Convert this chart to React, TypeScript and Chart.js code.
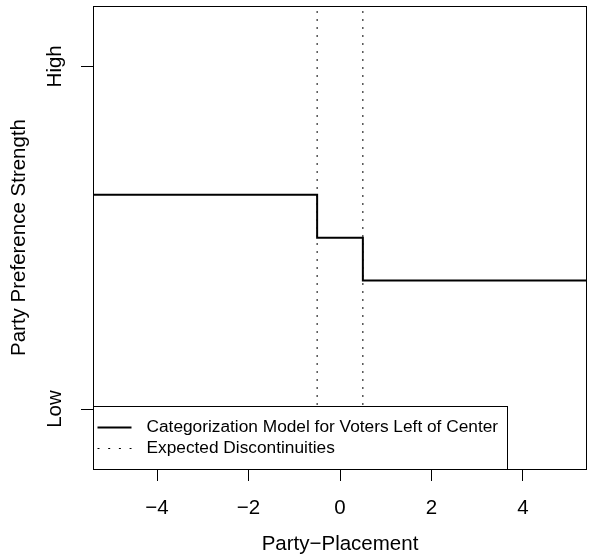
import React, { useEffect, useRef } from 'react';
import { Chart, registerables } from 'chart.js';

Chart.register(...registerables);

// ---- data ----
const stepX = [-6, -0.5, 0.5, 6];
const stepY = [0.625, 0.5, 0.375, 0.375];
const discontinuityX = [-0.5, 0.5];
const xTickValues = [-4, -2, 0, 2, 4];
const yTickValues = [0, 1];
const yTickLabels = ['Low', 'High'];
const xLimits = [-5.4, 5.4];
const yLimits = [-0.175, 1.176];
const legendLabels = ['Categorization Model for Voters Left of Center', 'Expected Discontinuities'];
const xTitle = 'Party\u2212Placement';
const yTitle = 'Party Preference Strength';

const FONT = '"Liberation Sans", Arial, Helvetica, sans-serif';
const FS = 20.5;
const LEG_FS = 17.3;

const boxPlugin = {
  id: 'rbox',
  afterDraw(chart: any) {
    const { ctx, chartArea: a } = chart;
    ctx.save();
    ctx.strokeStyle = '#000';
    ctx.lineWidth = 1;
    const L = Math.round(a.left) + 0.5;
    const T = Math.round(a.top) + 0.5;
    const R = Math.round(a.right) - 0.5;
    const B = Math.round(a.bottom) + 0.5;
    ctx.strokeRect(L, T, R - L, B - T);

    // legend (bottomleft)
    ctx.font = `${LEG_FS}px ${FONT}`;
    const w = Math.max(...legendLabels.map((t) => ctx.measureText(t).width));
    const rowH = 21;
    const textX = L + 53;
    const x1 = Math.round(textX + w + 9) + 0.5;
    const y0 = B - rowH * 3;
    ctx.fillStyle = '#fff';
    ctx.fillRect(L, y0, x1 - L, B - y0);
    ctx.strokeRect(L, y0, x1 - L, B - y0);
    const row1 = y0 + rowH;
    const row2 = y0 + rowH * 2;
    ctx.beginPath();
    ctx.lineWidth = 2;
    ctx.setLineDash([]);
    ctx.moveTo(L + 4, row1);
    ctx.lineTo(L + 38, row1);
    ctx.stroke();
    ctx.beginPath();
    ctx.lineWidth = 1;
    ctx.setLineDash([2, 8.7]);
    ctx.moveTo(L + 4, row2);
    ctx.lineTo(L + 38, row2);
    ctx.stroke();
    ctx.setLineDash([]);
    ctx.fillStyle = '#000';
    ctx.textAlign = 'left';
    ctx.textBaseline = 'middle';
    ctx.fillText(legendLabels[0], textX, row1);
    ctx.fillText(legendLabels[1], textX, row2);
    ctx.restore();
  },
};

export default function App() {
  const ref = useRef<HTMLCanvasElement | null>(null);
  useEffect(() => {
    if (!ref.current) return;
    const datasets: any[] = [
      {
        label: legendLabels[0],
        data: stepX.map((x, i) => ({ x, y: stepY[i] })),
        stepped: 'before',
        borderColor: '#000',
        borderWidth: 2,
        pointRadius: 0,
        fill: false,
      },
      ...discontinuityX.map((x) => ({
        label: legendLabels[1],
        data: [
          { x, y: yLimits[0] },
          { x, y: yLimits[1] },
        ],
        borderColor: '#000',
        borderWidth: 1,
        borderDash: [2, 6],
        pointRadius: 0,
        fill: false,
      })),
    ];
    const chart = new Chart(ref.current, {
      type: 'line',
      data: { datasets },
      plugins: [boxPlugin],
      options: {
        responsive: false,
        animation: false,
        layout: { padding: { left: 0, right: 2, top: 6, bottom: 0 } },
        plugins: { legend: { display: false }, tooltip: { enabled: false } },
        scales: {
          x: {
            type: 'linear',
            min: xLimits[0],
            max: xLimits[1],
            afterBuildTicks: (s: any) => {
              s.ticks = xTickValues.map((v) => ({ value: v }));
            },
            afterFit: (s: any) => {
              s.height = 87;
              s.paddingLeft = 0;
              s.paddingRight = 0;
            },
            ticks: {
              color: '#000',
              font: { family: FONT, size: FS },
              padding: 14.7,
              maxRotation: 0,
              autoSkip: false,
              callback: (v: any) => (Number(v) < 0 ? '\u2212' + Math.abs(Number(v)) : String(v)),
            },
            grid: { drawOnChartArea: false, drawTicks: true, tickLength: 12, tickColor: '#000', tickWidth: 1 },
            border: { display: false },
            title: {
              display: true,
              text: xTitle,
              color: '#000',
              font: { family: FONT, size: FS, lineHeight: 1 },
              padding: { top: 0, bottom: 1 },
            },
          },
          y: {
            type: 'linear',
            min: yLimits[0],
            max: yLimits[1],
            afterBuildTicks: (s: any) => {
              s.ticks = yTickValues.map((v) => ({ value: v }));
            },
            afterFit: (s: any) => {
              s.width = 93;
              s.paddingTop = 0;
              s.paddingBottom = 0;
            },
            ticks: {
              color: '#000',
              font: { family: FONT, size: FS },
              padding: 4.4,
              minRotation: 90,
              maxRotation: 90,
              crossAlign: 'center',
              autoSkip: false,
              callback: (v: any) => {
                const i = yTickValues.indexOf(Number(v));
                return i >= 0 ? yTickLabels[i] : '';
              },
            },
            grid: { drawOnChartArea: false, drawTicks: true, tickLength: 12, tickColor: '#000', tickWidth: 1 },
            border: { display: false },
            title: {
              display: true,
              text: yTitle,
              color: '#000',
              font: { family: FONT, size: FS, lineHeight: 1 },
              padding: { top: 9, bottom: 0 },
            },
          },
        },
      } as any,
    });
    return () => chart.destroy();
  }, []);
  return (
    <div style={{ position: 'fixed', left: 0, top: 0, width: 589, height: 556, background: '#fff' }}>
      <canvas ref={ref} width={589} height={556} style={{ display: 'block' }} />
    </div>
  );
}
